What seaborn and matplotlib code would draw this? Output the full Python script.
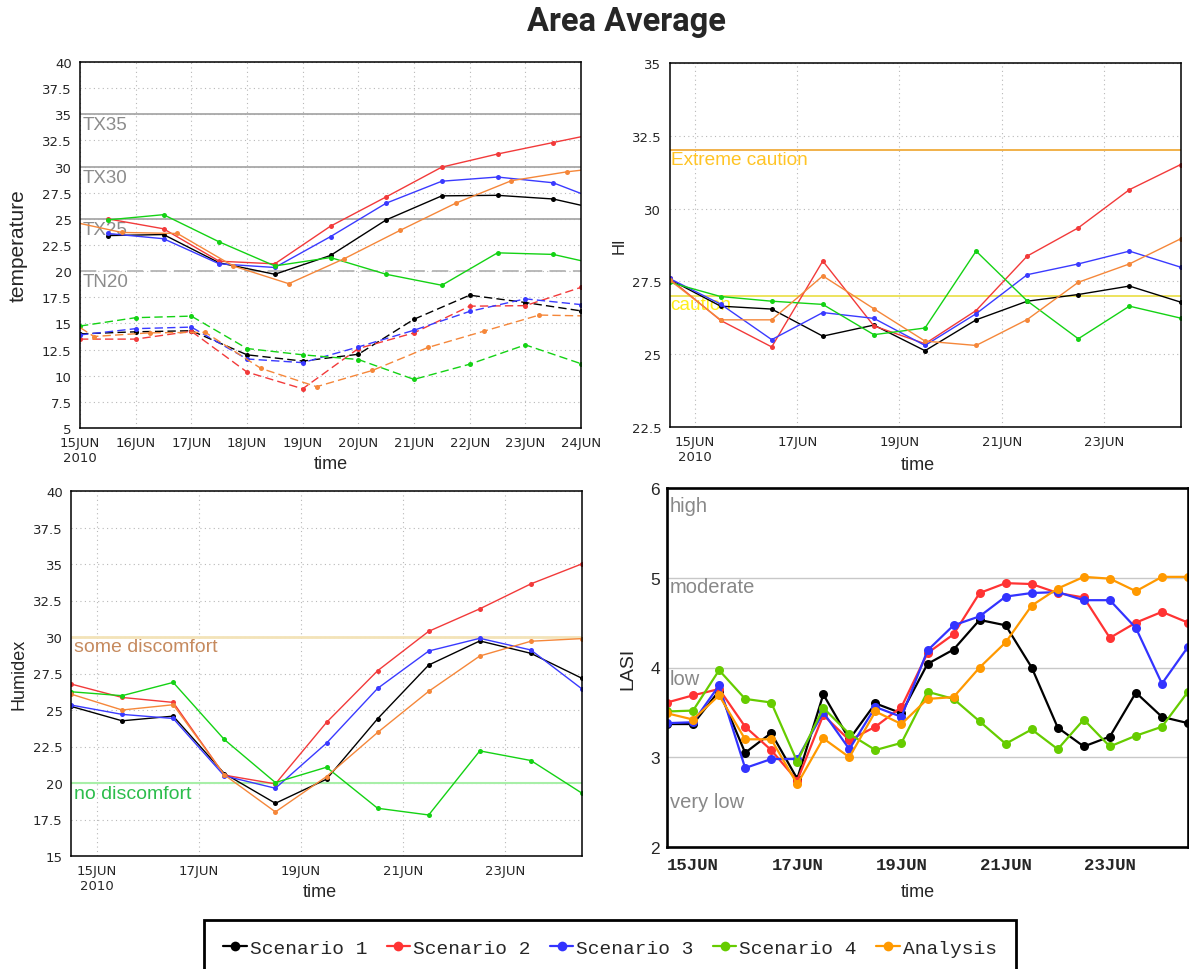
import numpy as np
import pandas as pd
import matplotlib
matplotlib.use("Agg")
import matplotlib.pyplot as plt
from matplotlib.lines import Line2D
from matplotlib.font_manager import FontProperties
import seaborn as sns

sns.set_style("white")
plt.rcParams["font.family"] = ["DejaVu Sans"]

# ---------------- data ----------------
series_names = ["Scenario 1", "Scenario 2", "Scenario 3", "Scenario 4", "Analysis"]

# temperature: daily maximum (solid) and minimum (dashed)
tmax_s1 = [23.4, 23.5, 20.8, 19.7, 21.5, 24.9, 27.2, 27.25, 26.9, 25.7]
tmax_s2 = [25.0, 24.05, 20.95, 20.7, 24.3, 27.1, 29.95, 31.2, 32.3, 33.4]
tmax_s3 = [23.6, 23.1, 20.7, 20.35, 23.3, 26.5, 28.6, 29.0, 28.45, 26.4]
tmax_s4 = [24.9, 25.4, 22.8, 20.5, 21.3, 19.7, 18.65, 21.75, 21.6, 20.4]
tmax_an = [24.85, 23.7, 23.6, 20.5, 18.8, 21.2, 23.9, 26.5, 28.65, 29.5, 30.1]

tmin_s1 = [14.0, 14.2, 14.3, 12.0, 11.4, 12.05, 15.4, 17.7, 17.0, 16.2]
tmin_s2 = [13.5, 13.5, 14.25, 10.35, 8.75, 12.6, 14.1, 16.65, 16.7, 18.45]
tmin_s3 = [13.9, 14.5, 14.65, 11.6, 11.25, 12.75, 14.35, 16.15, 17.35, 16.8]
tmin_s4 = [14.75, 15.55, 15.7, 12.6, 12.0, 11.55, 9.65, 11.1, 12.95, 11.15]
tmin_an = [17.2, 13.75, 14.1, 14.15, 10.7, 8.95, 10.5, 12.7, 14.25, 15.8, 15.7]

# heat index
hi_s1 = [27.57, 26.65, 26.55, 25.62, 26.0, 25.12, 26.18, 26.82, 27.05, 27.34, 26.79]
hi_s2 = [27.6, 26.16, 25.25, 28.2, 25.97, 25.36, 26.5, 28.37, 29.34, 30.65, 31.51]
hi_s3 = [27.6, 26.72, 25.5, 26.43, 26.23, 25.3, 26.39, 27.73, 28.1, 28.54, 27.99]
hi_s4 = [27.47, 26.98, 26.82, 26.71, 25.67, 25.9, 28.54, 26.83, 25.53, 26.65, 26.24]
hi_an = [27.55, 26.18, 26.18, 27.69, 26.56, 25.45, 25.3, 26.19, 27.47, 28.1, 28.96]

# humidex
hx_s1 = [25.25, 24.26, 24.58, 20.65, 18.61, 20.26, 24.4, 28.08, 29.73, 28.88, 27.17]
hx_s2 = [26.78, 25.86, 25.52, 20.54, 19.94, 24.15, 27.69, 30.39, 31.93, 33.64, 35.01]
hx_s3 = [25.34, 24.7, 24.42, 20.49, 19.64, 22.73, 26.48, 29.04, 29.91, 29.11, 26.44]
hx_s4 = [26.25, 25.98, 26.89, 22.98, 20.03, 21.08, 18.27, 17.81, 22.2, 21.54, 19.3]
hx_an = [26.09, 25.0, 25.36, 20.56, 18.02, 20.44, 23.46, 26.28, 28.7, 29.71, 29.89]

# LASI (half-daily)
lasi_s1 = [3.37, 3.37, 3.74, 3.05, 3.27, 2.76, 3.7, 3.2, 3.6, 3.49, 4.04, 4.2, 4.53,
           4.47, 4.0, 3.33, 3.12, 3.23, 3.72, 3.45, 3.38]
lasi_s2 = [3.61, 3.69, 3.76, 3.34, 3.08, 2.74, 3.47, 3.19, 3.34, 3.56, 4.16, 4.37, 4.83,
           4.94, 4.93, 4.83, 4.78, 4.33, 4.5, 4.62, 4.5]
lasi_s3 = [3.38, 3.39, 3.8, 2.88, 2.98, 2.98, 3.5, 3.09, 3.56, 3.45, 4.19, 4.47, 4.57,
           4.79, 4.83, 4.84, 4.75, 4.75, 4.44, 3.82, 4.23]
lasi_s4 = [3.51, 3.52, 3.97, 3.65, 3.61, 2.95, 3.55, 3.26, 3.08, 3.16, 3.73, 3.65, 3.4,
           3.15, 3.31, 3.09, 3.42, 3.12, 3.24, 3.34, 3.73]
lasi_an = [3.49, 3.42, 3.69, 3.2, 3.2, 2.7, 3.21, 3.0, 3.51, 3.37, 3.65, 3.67, 4.0,
           4.28, 4.69, 4.88, 5.01, 4.99, 4.85, 5.01, 5.01]

# time axes (day of June 2010)
t_max_scen = np.arange(15.5, 25.0, 1.0)
t_max_an = np.arange(14.75, 25.0, 1.0)
t_min_scen = np.arange(15.0, 24.5, 1.0)
t_min_an = np.arange(14.25, 24.5, 1.0)
t_daily = np.arange(14.5, 25.0, 1.0)
t_half = np.arange(14.5, 24.75, 0.5)

daily_ticks = list(range(15, 25))
daily_labels = ["15JUN\n2010", "16JUN", "17JUN", "18JUN", "19JUN", "20JUN",
                "21JUN", "22JUN", "23JUN", "24JUN"]
biday_ticks = [15, 17, 19, 21, 23]
biday_labels = ["15JUN\n2010", "17JUN", "19JUN", "21JUN", "23JUN"]
biday_labels_plain = ["15JUN", "17JUN", "19JUN", "21JUN", "23JUN"]

grads_colors = ["#000000", "#f23a3a", "#3a3aff", "#14d214", "#f5873a"]
web_colors = ["#000000", "#ff3333", "#3333ff", "#66cc00", "#ff9900"]

# ---------------- figure ----------------
W, H = 1189, 970
fig = plt.figure(figsize=(W / 100, H / 100), dpi=100)


def box(l, t, r, b):
    return [l / W, 1 - b / H, (r - l) / W, (b - t) / H]


def draw(ax, x, y, color, lw=1.0, ms=3.6, ls="-"):
    df = pd.DataFrame({"t": x, "v": y})
    sns.lineplot(data=df, x="t", y="v", ax=ax, color=color, linewidth=lw,
                 marker="o", markersize=ms, markeredgewidth=0, linestyle=ls,
                 estimator=None, sort=False, legend=False)


def grads_axes(ax, ylabel, ylabel_x, xlabel_y, xlabel_x=0.5, ylab_size=13):
    for s in ax.spines.values():
        s.set_color("black")
        s.set_linewidth(1.1)
    ax.grid(True, linestyle=(0, (1, 3)), color="#b8b8b8", linewidth=0.8)
    ax.set_axisbelow(True)
    ax.tick_params(direction="out", length=4, width=1, labelsize=9.5, pad=2,
                   color="black")
    ax.set_ylabel(ylabel, fontsize=ylab_size, family="Liberation Sans")
    ax.yaxis.label.set_va("center")
    ax.yaxis.set_label_coords(ylabel_x, 0.5)
    ax.set_xlabel("time", fontsize=13, family="Liberation Sans")
    ax.xaxis.label.set_va("center")
    ax.xaxis.set_label_coords(xlabel_x, xlabel_y)


def fmt(v):
    return ("%g" % v)


# ---- temperature ----
ax1 = fig.add_axes(box(80, 63, 581, 429))
for yv in (35, 30, 25):
    ax1.axhline(yv, color="#a8a8a8", lw=1.3, zorder=1)
ax1.axhline(20, color="#b4b4b4", lw=1.3, ls=(0, (9, 4)), zorder=1)
for yv, lab in ((34, "TX35"), (29, "TX30"), (24, "TX25"), (19, "TN20")):
    ax1.text(15.04, yv, lab, color="#8c8c8c", fontsize=13.5,
             family="Liberation Sans", va="center", ha="left", zorder=2)
tmax_sc = [tmax_s1, tmax_s2, tmax_s3, tmax_s4]
tmin_sc = [tmin_s1, tmin_s2, tmin_s3, tmin_s4]
for i in range(4):
    draw(ax1, t_max_scen, tmax_sc[i], grads_colors[i])
    draw(ax1, t_min_scen, tmin_sc[i], grads_colors[i], ls=(0, (6, 3)))
draw(ax1, t_max_an, tmax_an, grads_colors[4])
draw(ax1, t_min_an, tmin_an, grads_colors[4], ls=(0, (6, 3)))
ax1.set_xlim(15, 24)
ax1.set_ylim(5, 40)
yt = np.arange(5, 40.01, 2.5)
ax1.set_yticks(yt, [fmt(v) for v in yt])
ax1.set_xticks(daily_ticks, daily_labels)
grads_axes(ax1, "temperature", -0.124, -0.098, ylab_size=15)

# ---- heat index ----
ax2 = fig.add_axes(box(669.5, 64, 1180.5, 428))
ax2.axhline(32, color="#f0ab3c", lw=1.3, zorder=1)
ax2.axhline(27, color="#ece050", lw=1.3, zorder=1)
ax2.text(14.52, 31.67, "Extreme caution", color="#ffc425", fontsize=13.7,
         family="Liberation Sans", va="center", ha="left", zorder=2)
ax2.text(14.52, 26.72, "caution", color="#ffee1a", fontsize=13.7,
         family="Liberation Sans", va="center", ha="left", zorder=2)
for i, ys in enumerate([hi_s1, hi_s2, hi_s3, hi_s4, hi_an]):
    draw(ax2, t_daily, ys, grads_colors[i])
ax2.set_xlim(14.5, 24.5)
ax2.set_ylim(22.5, 35)
yt = np.arange(22.5, 35.01, 2.5)
ax2.set_yticks(yt, [fmt(v) for v in yt])
ax2.set_xticks(biday_ticks, biday_labels)
grads_axes(ax2, "HI", -0.099, -0.102, xlabel_x=0.485, ylab_size=12)

# ---- humidex ----
ax3 = fig.add_axes(box(71, 492, 582, 857))
ax3.axhline(30, color="#f3e3b8", lw=2, zorder=1)
ax3.axhline(20, color="#a8efa8", lw=1.5, zorder=1)
ax3.text(14.55, 29.32, "some discomfort", color="#c68a5e", fontsize=14,
         family="Liberation Sans", va="center", ha="left", zorder=2)
ax3.text(14.55, 19.31, "no discomfort", color="#2cbd4c", fontsize=14,
         family="Liberation Sans", va="center", ha="left", zorder=2)
for i, ys in enumerate([hx_s1, hx_s2, hx_s3, hx_s4, hx_an]):
    draw(ax3, t_daily, ys, grads_colors[i])
ax3.set_xlim(14.5, 24.5)
ax3.set_ylim(15, 40)
yt = np.arange(15, 40.01, 2.5)
ax3.set_yticks(yt, [fmt(v) for v in yt])
ax3.set_xticks(biday_ticks, biday_labels)
grads_axes(ax3, "Humidex", -0.102, -0.096, xlabel_x=0.486, ylab_size=13)

# ---- LASI ----
ax4 = fig.add_axes(box(667, 489, 1188, 848))
for yv in (3, 4, 5):
    ax4.axhline(yv, color="#c8c8c8", lw=1.0, zorder=1)
for yv, lab in ((5.80, "high"), (4.897, "moderate"), (3.88, "low"), (2.51, "very low")):
    ax4.text(14.55, yv, lab, color="#888888", fontsize=14.5,
             family="Liberation Sans", va="center", ha="left", zorder=2)
for i, ys in enumerate([lasi_s1, lasi_s2, lasi_s3, lasi_s4, lasi_an]):
    draw(ax4, t_half, ys, web_colors[i], lw=1.6, ms=6.5)
ax4.set_xlim(14.5, 24.5)
ax4.set_ylim(2, 6)
ax4.set_yticks([2, 3, 4, 5, 6], ["2", "3", "4", "5", "6"])
ax4.set_xticks(biday_ticks, biday_labels_plain)
ax4.set_xticks(np.arange(14.5, 24.51, 0.5), minor=True)
for s in ax4.spines.values():
    s.set_color("black")
    s.set_linewidth(1.9)
ax4.grid(False)
ax4.tick_params(axis="y", length=0, labelsize=12.5, pad=5)
ax4.tick_params(axis="x", which="both", direction="in", length=3, color="#bbbbbb", pad=7)
for lab in ax4.get_yticklabels():
    lab.set_family("Liberation Sans")
for lab in ax4.get_xticklabels():
    lab.set_family("Liberation Mono")
    lab.set_fontsize(12.5)
    lab.set_fontweight("bold")
ax4.set_ylabel("LASI", fontsize=14, family="Liberation Sans")
ax4.yaxis.label.set_va("center")
ax4.yaxis.set_label_coords(-0.075, 0.5)
ax4.set_xlabel("time", fontsize=13, family="Liberation Sans")
ax4.xaxis.label.set_va("center")
ax4.xaxis.set_label_coords(0.482, -0.125)

# ---- title & legend ----
fig.text(626 / W, 1 - 22 / H, "Area Average", ha="center", va="center",
         fontsize=23.5, fontweight="bold", family="Roboto")

handles = [Line2D([0], [0], color=c, lw=1.6, marker="o", markersize=7,
                  markeredgewidth=0) for c in web_colors]
leg = fig.legend(handles, series_names, loc="center",
                 bbox_to_anchor=(610 / W, 1 - 949 / H), ncol=5,
                 prop=FontProperties(family="Liberation Mono", size=14),
                 frameon=True, fancybox=False, edgecolor="black",
                 handlelength=1.2, handletextpad=0.15, columnspacing=1.0,
                 borderpad=1.0)
leg.get_frame().set_linewidth(2)
leg.get_frame().set_alpha(1)

fig.savefig("out.png", dpi=100)
